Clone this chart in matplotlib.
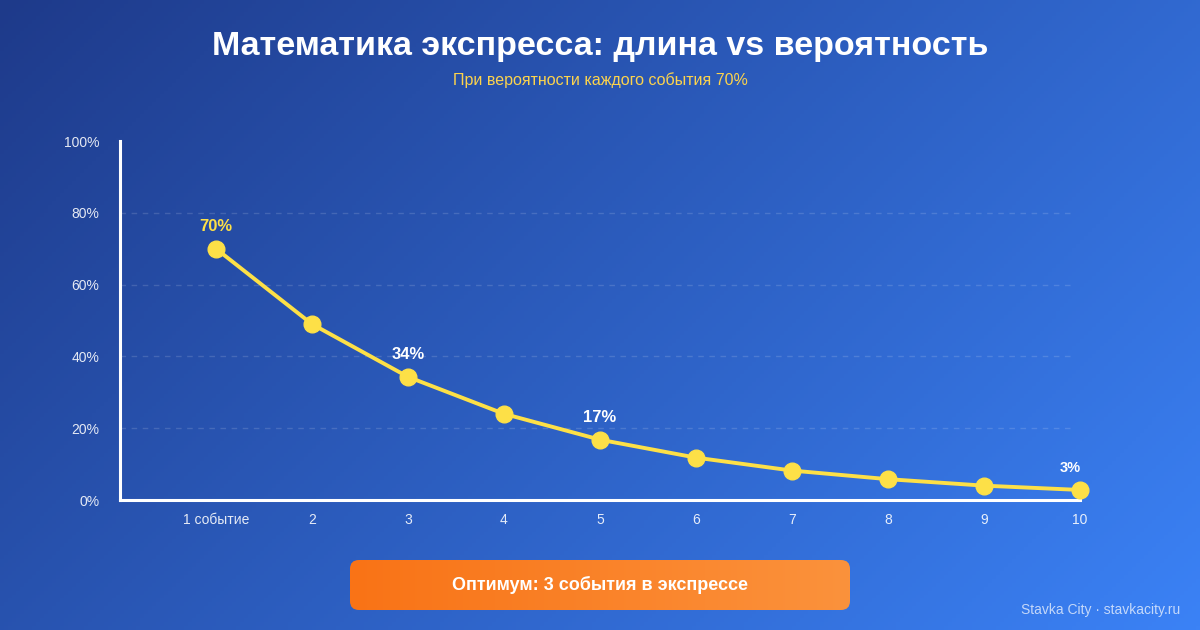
import numpy as np
import matplotlib
matplotlib.use('Agg')
import matplotlib.pyplot as plt
from matplotlib.patches import FancyBboxPatch

plt.rcParams['font.family'] = ['Liberation Sans', 'DejaVu Sans']

# data
events = [1, 2, 3, 4, 5, 6, 7, 8, 9, 10]
event_labels = ['1 событие', '2', '3', '4', '5', '6', '7', '8', '9', '10']
probs = [70, 49, 34.3, 24, 16.8, 11.8, 8.2, 5.8, 4.0, 2.8]
marked = {1: '70%', 3: '34%', 5: '17%', 10: '3%'}
y_ticks = [0, 20, 40, 60, 80, 100]
y_tick_labels = ['0%', '20%', '40%', '60%', '80%', '100%']

W, H = 1200, 630
fig = plt.figure(figsize=(12, 6.3), dpi=100)

# background gradient (135deg, dark to light blue), pixel coordinates
bg = fig.add_axes([0, 0, 1, 1], zorder=0)
bg.set_xlim(0, W)
bg.set_ylim(H, 0)
bg.axis('off')
xx, yy = np.meshgrid(np.linspace(0, W, 300), np.linspace(0, H, 160))
t = (xx + yy) / (W + H)
c0 = np.array([30, 58, 138]) / 255
c1 = np.array([59, 130, 246]) / 255
grad = c0[None, None, :] * (1 - t[..., None]) + c1[None, None, :] * t[..., None]
bg.imshow(grad, extent=[0, W, H, 0], aspect='auto', zorder=0)

# titles
bg.text(600, 46, 'Математика экспресса: длина vs вероятность', color='white',
        fontsize=24.5, fontweight='bold', ha='center', va='center')
bg.text(600, 80, 'При вероятности каждого события 70%', color='#FCD34D',
        fontsize=11.5, ha='center', va='center')

# orange button with horizontal gradient
btn = FancyBboxPatch((350, 560), 500, 50, boxstyle='round,pad=0,rounding_size=9',
                     facecolor='none', edgecolor='none', zorder=2)
bg.add_patch(btn)
bx = np.linspace(0, 1, 200)[None, :, None]
o0 = np.array([249, 115, 22]) / 255
o1 = np.array([251, 146, 60]) / 255
bgrad = o0 * (1 - bx) + o1 * bx
im = bg.imshow(np.repeat(bgrad, 2, axis=0), extent=[350, 850, 610, 560],
               aspect='auto', zorder=2)
im.set_clip_path(btn)
bg.text(600, 585, 'Оптимум: 3 события в экспрессе', color='white',
        fontsize=13, fontweight='bold', ha='center', va='center', zorder=3)

bg.text(1180, 610, 'Stavka City · stavkacity.ru', color='white', alpha=0.7,
        fontsize=10, ha='right', va='center')

# main chart
ax = fig.add_axes([0.1, 130 / H, 0.8, 359 / H], zorder=1)
ax.set_facecolor('none')
ax.set_xlim(0, 10)
ax.set_ylim(0, 100)

for g in [20, 40, 60, 80]:
    ax.axhline(g, color='white', alpha=0.14, linewidth=1, linestyle=(0, (4, 4)),
               xmax=0.995, zorder=1)

ax.plot(events, probs, color='#FDE047', linewidth=2.8, marker='o', markersize=12,
        markerfacecolor='#FDE047', markeredgecolor='#FDE047', zorder=3, clip_on=False)

for ev, lab in marked.items():
    col = '#FDE047' if ev == 1 else 'white'
    dx = -7 if ev == 10 else 0
    ax.annotate(lab, (ev, probs[ev - 1]), xytext=(dx, 16), textcoords='offset points',
                ha='center', va='center', color=col, fontsize=12 if ev != 10 else 10.5,
                fontweight='bold', zorder=4)

for side in ['top', 'right']:
    ax.spines[side].set_visible(False)
for side in ['left', 'bottom']:
    ax.spines[side].set_color('white')
    ax.spines[side].set_linewidth(2.2)

ax.set_yticks(y_ticks)
ax.set_yticklabels(y_tick_labels)
ax.set_xticks(events)
ax.set_xticklabels(event_labels)
ax.tick_params(axis='y', length=0, pad=15, labelsize=10, labelcolor=(1, 1, 1, 0.88))
ax.tick_params(axis='x', length=0, pad=9, labelsize=10, labelcolor=(1, 1, 1, 0.88))

fig.savefig('out.png', dpi=100)
